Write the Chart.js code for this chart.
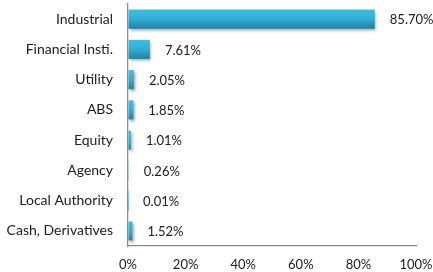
<!DOCTYPE html>
<html>
<head>
<meta charset="utf-8">
<script src="https://cdn.jsdelivr.net/npm/chart.js@4/dist/chart.umd.min.js"></script>
<style>
  html, body { margin: 0; padding: 0; background: #fff; }
  #wrap { width: 433px; height: 272px; }
</style>
</head>
<body>
<div id="wrap"><canvas id="grafico"></canvas></div>
<script>
// categorias y valores (% del total)
const sectores = ['Industrial', 'Financial Insti.', 'Utility', 'ABS', 'Equity', 'Agency', 'Local Authority', 'Cash, Derivatives'];
const pesos = [85.70, 7.61, 2.05, 1.85, 1.01, 0.26, 0.01, 1.52];
const ticksX = [0, 20, 40, 60, 80, 100];

const colorTexto = '#202020';
const fuente = 'Lato, "Open Sans", sans-serif';

// degradado vertical para cada barra, usando la escala y
function colorBarra(ctx) {
  const chart = ctx.chart;
  const ys = chart.scales.y;
  if (!ys || ctx.dataIndex === undefined) return '#34aed2';
  const yc = ys.getPixelForValue(ctx.dataIndex);
  const alto = ys.height / sectores.length * 0.63;
  if (!isFinite(yc) || !isFinite(alto) || alto <= 0) return '#34aed2';
  const g = chart.ctx.createLinearGradient(0, yc - alto / 2, 0, yc + alto / 2);
  g.addColorStop(0, '#3dbde2');
  g.addColorStop(0.5, '#32aed3');
  g.addColorStop(1, '#2580a0');
  return g;
}

// sombra de las barras
const sombra = {
  id: 'sombra',
  beforeDatasetsDraw(chart) {
    const c = chart.ctx;
    c.save();
    c.shadowColor = 'rgba(0,0,0,0.35)';
    c.shadowBlur = 3;
    c.shadowOffsetX = 1.5;
    c.shadowOffsetY = 2;
  },
  afterDatasetsDraw(chart) {
    chart.ctx.restore();
  }
};

// etiquetas de valor a la derecha de cada barra
const etiquetas = {
  id: 'etiquetas',
  afterDraw(chart) {
    const c = chart.ctx;
    const meta = chart.getDatasetMeta(0);
    c.save();
    c.font = '13px ' + fuente;
    c.fillStyle = colorTexto;
    c.textAlign = 'left';
    c.textBaseline = 'middle';
    meta.data.forEach(function (bar, i) {
      c.fillText(pesos[i].toFixed(2) + '%', bar.x + 15, bar.y + 1);
    });
    c.restore();
  }
};

const ctx = document.getElementById('grafico').getContext('2d');
const grafico = new Chart(ctx, {
  type: 'bar',
  data: {
    labels: sectores,
    datasets: [{
      data: pesos,
      backgroundColor: colorBarra,
      borderWidth: 0,
      barPercentage: 0.63,
      categoryPercentage: 1
    }]
  },
  options: {
    indexAxis: 'y',
    responsive: true,
    maintainAspectRatio: false,
    animation: false,
    layout: { padding: { top: 4, right: 17, left: 0, bottom: 0 } },
    plugins: {
      legend: { display: false },
      tooltip: { enabled: false }
    },
    scales: {
      x: {
        min: 0,
        max: 100,
        afterBuildTicks(scale) {
          scale.ticks = ticksX.map(v => ({ value: v }));
        },
        afterFit(scale) {
          scale.height = 26;
          scale.paddingLeft = 0;
          scale.paddingRight = 0;
        },
        grid: { color: 'rgba(0,0,0,0)', drawTicks: false },
        border: { color: '#8c8c8c', width: 1.3 },
        ticks: {
          padding: 11,
          color: colorTexto,
          font: { family: fuente, size: 13 },
          maxRotation: 0,
          callback: v => v + '%'
        }
      },
      y: {
        afterFit(scale) {
          scale.width = 128;
          scale.paddingTop = 0;
          scale.paddingBottom = 0;
        },
        grid: { color: 'rgba(0,0,0,0)', drawTicks: false },
        border: { color: '#8c8c8c', width: 1.3 },
        ticks: {
          padding: 15,
          color: colorTexto,
          font: { family: fuente, size: 14 }
        }
      }
    }
  },
  plugins: [sombra, etiquetas]
});
</script>
</body>
</html>
